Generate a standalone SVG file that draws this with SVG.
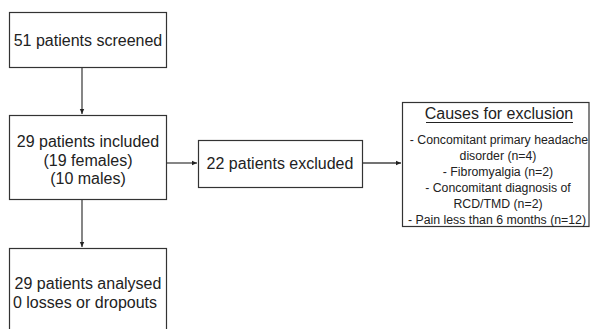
<svg xmlns="http://www.w3.org/2000/svg" width="590" height="329" viewBox="0 0 590 329">
<defs>
<marker id="ah" markerWidth="6" markerHeight="6" refX="5" refY="3" orient="auto" markerUnits="userSpaceOnUse">
<path d="M0,0.8 L5,3 L0,5.2 Z" fill="#222"/>
</marker>
<style>
.box{fill:#fff;stroke:#333;stroke-width:1.2}
.t{font-family:"Liberation Sans",Arial,sans-serif;font-size:16px;fill:#222;text-anchor:middle}
.s{font-family:"Liberation Sans",Arial,sans-serif;font-size:12.3px;fill:#222;text-anchor:middle}
.c{stroke:#444;stroke-width:1.3;fill:none}
</style>
</defs>
<rect width="590" height="329" fill="#fff"/>
<g id="connectors">
<line class="c" x1="82" y1="68" x2="82" y2="114" marker-end="url(#ah)"/>
<line class="c" x1="167" y1="163" x2="197" y2="163" marker-end="url(#ah)"/>
<line class="c" x1="363" y1="163" x2="401" y2="163" marker-end="url(#ah)"/>
<line class="c" x1="82" y1="200" x2="82" y2="247" marker-end="url(#ah)"/>
</g>
<g id="screened">
<rect class="box" x="9.5" y="12.5" width="157" height="55"/>
<text class="t" x="88" y="46">51 patients screened</text>
</g>
<g id="included">
<rect class="box" x="9.5" y="115.5" width="157" height="84"/>
<text class="t" x="88" y="147">29 patients included</text>
<text class="t" x="88" y="166">(19 females)</text>
<text class="t" x="88" y="184">(10 males)</text>
</g>
<g id="excluded">
<rect class="box" x="198.5" y="140.5" width="164" height="47"/>
<text class="t" x="280" y="169">22 patients excluded</text>
</g>
<g id="causes">
<rect class="box" x="402.5" y="102.5" width="186.5" height="124"/>
<text class="t" x="499" y="119" font-size="15">Causes for exclusion</text>
<line x1="426" y1="122.5" x2="573" y2="122.5" stroke="#222" stroke-width="1"/>
<text class="s" x="499" y="144">- Concomitant primary headache</text>
<text class="s" x="498" y="160">disorder (n=4)</text>
<text class="s" x="498" y="176">- Fibromyalgia (n=2)</text>
<text class="s" x="498" y="192">- Concomitant diagnosis of</text>
<text class="s" x="498" y="208">RCD/TMD (n=2)</text>
<text class="s" x="497" y="224">- Pain less than 6 months (n=12)</text>
</g>
<g id="analysed">
<rect class="box" x="9.5" y="248.5" width="157" height="90"/>
<text class="t" x="88" y="289">29 patients analysed</text>
<text class="t" x="85" y="308">0 losses or dropouts</text>
</g>
</svg>
